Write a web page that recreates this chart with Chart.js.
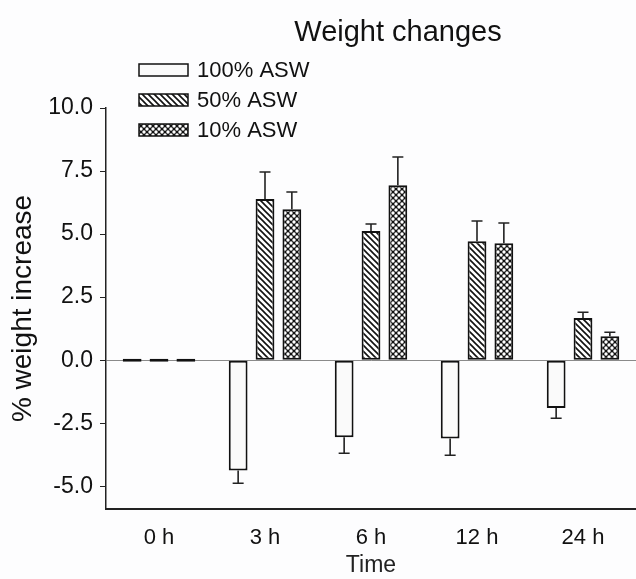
<!DOCTYPE html>
<html>
<head>
<meta charset="utf-8">
<script src="https://cdn.jsdelivr.net/npm/chart.js@4.4.1/dist/chart.umd.min.js"></script>
<style>
  html, body { margin: 0; padding: 0; background: #fdfdfe; }
  #c { display: block; }
</style>
</head>
<body>
<canvas id="c" width="636" height="579"></canvas>
<script>
// data
const categories = ['0 h', '3 h', '6 h', '12 h', '24 h'];
const seriesNames = ['100% ASW', '50% ASW', '10% ASW'];
const asw100 = [0, -4.37, -3.06, -3.10, -1.90];
const asw50 = [0, 6.39, 5.12, 4.72, 1.67];
const asw10 = [0, 5.99, 6.94, 4.64, 0.95];
const err100 = [0, 0.51, 0.63, 0.67, 0.40];
const err50 = [0, 1.07, 0.28, 0.80, 0.23];
const err10 = [0, 0.68, 1.12, 0.80, 0.16];
const yTicks = [-5, -2.5, 0, 2.5, 5, 7.5, 10];

const FONT = "'Liberation Sans', Arial, sans-serif";
Chart.defaults.font.family = FONT;
Chart.defaults.color = '#111';

// hatch "\\\\" for 50%
function hatchPattern() {
    const c = document.createElement('canvas');
    c.width = 6; c.height = 6;
    const g = c.getContext('2d');
    g.fillStyle = '#fff';
    g.fillRect(0, 0, 6, 6);
    g.strokeStyle = '#111';
    g.lineWidth = 1.6;
    g.beginPath();
    g.moveTo(-1, -1); g.lineTo(7, 7);
    g.moveTo(-1, 5); g.lineTo(1, 7);
    g.moveTo(5, -1); g.lineTo(7, 1);
    g.stroke();
    return g.createPattern(c, 'repeat');
}

// dark net with white dots for 10%
function netPattern() {
    const c = document.createElement('canvas');
    c.width = 6; c.height = 6;
    const g = c.getContext('2d');
    g.fillStyle = '#111';
    g.fillRect(0, 0, 6, 6);
    g.fillStyle = '#fff';
    [[3, 3], [0, 0], [6, 0], [0, 6], [6, 6]].forEach(([x, y]) => {
        g.beginPath(); g.arc(x, y, 1.7, 0, Math.PI * 2); g.fill();
    });
    return g.createPattern(c, 'repeat');
}

const errorBars = {
    id: 'errorBars',
    afterDatasetsDraw(chart) {
        const g = chart.ctx;
        const y = chart.scales.y;
        chart.data.datasets.forEach((ds, di) => {
            const meta = chart.getDatasetMeta(di);
            meta.data.forEach((bar, i) => {
                const v = ds.data[i], e = ds.errors[i];
                if (!e) return;
                const end = y.getPixelForValue(v + Math.sign(v) * e);
                g.save();
                g.strokeStyle = '#222';
                g.lineWidth = 1.6;
                g.beginPath();
                g.moveTo(bar.x, bar.y); g.lineTo(bar.x, end);
                g.moveTo(bar.x - 5.5, end); g.lineTo(bar.x + 5.5, end);
                g.stroke();
                g.restore();
            });
        });
    }
};

// title + vertical legend like the original figure
const titleLegend = {
    id: 'titleLegend',
    afterDraw(chart) {
        const g = chart.ctx;
        g.save();
        g.fillStyle = '#111';
        g.font = '29px ' + FONT;
        g.textAlign = 'center';
        g.textBaseline = 'middle';
        g.fillText('Weight changes', 398, 33);

        g.font = '22px ' + FONT;
        g.textAlign = 'left';
        chart.data.datasets.forEach((ds, i) => {
            const top = 64 + i * 30;
            g.fillStyle = ds.backgroundColor;
            g.fillRect(139, top, 49, 12);
            g.strokeStyle = '#111';
            g.lineWidth = 1.5;
            g.strokeRect(139, top, 49, 12);
            g.fillStyle = '#111';
            g.fillText(ds.label, 197, top + 7);
        });
        g.restore();
    }
};

const barStyle = {
    borderColor: '#111',
    borderWidth: 2,
    borderSkipped: false,
    minBarLength: 3,
    barPercentage: 0.7,
    categoryPercentage: 0.76
};

new Chart(document.getElementById('c'), {
    type: 'bar',
    data: {
        labels: categories,
        datasets: [
            { label: seriesNames[0], data: asw100, errors: err100, backgroundColor: '#fafafa', ...barStyle },
            { label: seriesNames[1], data: asw50, errors: err50, backgroundColor: hatchPattern(), ...barStyle },
            { label: seriesNames[2], data: asw10, errors: err10, backgroundColor: netPattern(), ...barStyle }
        ]
    },
    options: {
        responsive: false,
        animation: false,
        devicePixelRatio: 1,
        layout: { padding: { top: 108, left: 0, right: 0, bottom: 0 } },
        plugins: {
            legend: { display: false },
            tooltip: { enabled: false }
        },
        scales: {
            x: {
                afterFit: (s) => { s.height = 70; },
                grid: { display: false },
                border: { display: true, color: '#222', width: 2 },
                ticks: { padding: 8, color: '#111', font: { size: 22 } },
                title: { display: true, text: 'Time', color: '#222', font: { size: 23 }, padding: { top: 4, bottom: 0 } }
            },
            y: {
                min: -5.9,
                max: 10,
                afterFit: (s) => { s.width = 106; },
                afterBuildTicks: (s) => { s.ticks = yTicks.map(v => ({ value: v })); },
                grid: {
                    drawOnChartArea: true,
                    color: (c) => (c.tick && c.tick.value === 0 ? '#8a8a8a' : 'rgba(0,0,0,0)'),
                    lineWidth: 1,
                    tickColor: '#222',
                    tickLength: 6
                },
                border: { display: true, color: '#222', width: 1.5 },
                ticks: {
                    padding: 7,
                    color: '#111',
                    font: { size: 23 },
                    callback: (v) => Number(v).toFixed(1)
                },
                title: { display: true, text: '% weight increase', color: '#111', font: { size: 28 }, padding: { top: 6, bottom: 0 } }
            }
        }
    },
    plugins: [errorBars, titleLegend]
});
</script>
</body>
</html>
